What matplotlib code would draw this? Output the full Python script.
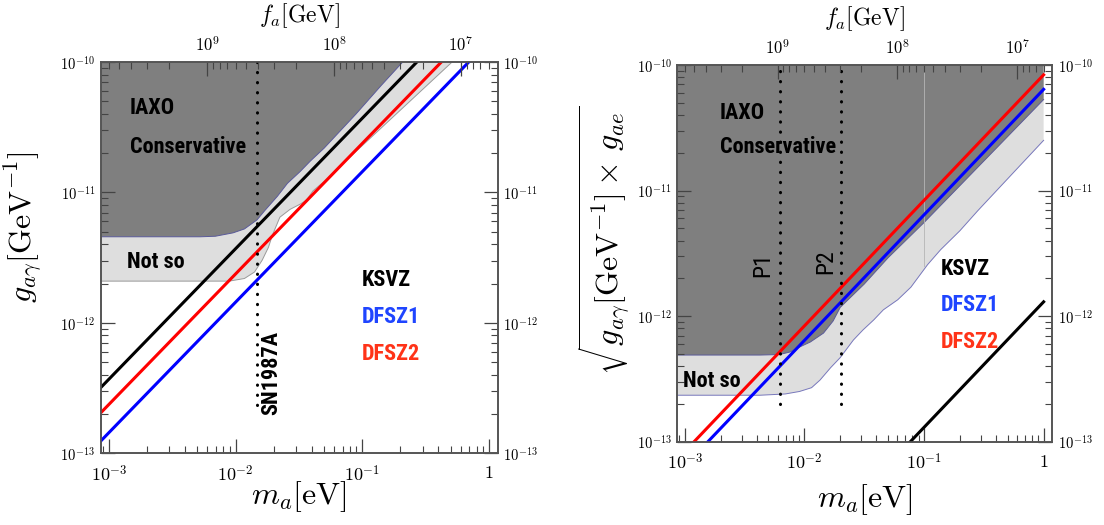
import numpy as np
import matplotlib.pyplot as plt
from matplotlib.ticker import FuncFormatter, NullFormatter

plt.rcParams['mathtext.fontset'] = 'cm'
plt.rcParams['font.family'] = ['DejaVu Serif']

COND = ['Liberation Sans Narrow', 'Roboto Condensed', 'DejaVu Sans']

FA_CONST = 6.0e6            # f_a [GeV] = FA_CONST / m_a [eV]
M_LIM = (10**-3.065, 10**0.07)
G_LIM = (1e-13, 1e-10)

# model lines: coupling at m_a = 1 eV, g grows linearly with m_a
models = ['KSVZ', 'DFSZ1', 'DFSZ2']
line_colors = ['black', '#0000ff', '#ff0000']
text_colors = ['black', '#1f45ff', '#ff3318']
left_coef = [3.7e-10, 1.44e-10, 2.37e-10]
right_coef = [1.3e-12, 6.4e-11, 8.35e-11]
m_line = np.array([1e-4, 1.0])

# left panel regions (log10 m_a, log10 g)
left_dark_logm = [-3.07, -2.28, -2.16, -2.02, -1.93, -1.83, -1.77, -1.67, -1.59,
                  -1.49, -1.41, -1.30, -1.05, -0.85, -0.68]
left_dark_logg = [-11.34, -11.34, -11.336, -11.31, -11.28, -11.21, -11.14, -11.03, -10.93,
                  -10.84, -10.76, -10.66, -10.40, -10.18, -10.0]
left_light_logm = [-3.07, -2.05, -1.93, -1.85, -1.79, -1.74, -1.71, -1.65, -1.57,
                   -1.49, -1.44, -1.39, -1.33, -1.25, -1.18, -1.12, -0.29]
left_light_logg = [-11.68, -11.68, -11.66, -11.61, -11.52, -11.42, -11.33, -11.19, -11.13,
                   -11.09, -11.06, -10.99, -10.94, -10.88, -10.80, -10.75, -10.0]

# right panel regions
right_dark_logm = [-3.07, -2.37, -2.21, -2.12, -2.04, -1.95, -1.84, -1.76, -1.70,
                   -1.5, -1.3, -1.0, -0.5, 0.0]
right_dark_logg = [-12.31, -12.31, -12.306, -12.286, -12.246, -12.206, -12.135, -12.039, -11.93,
                   -11.745, -11.535, -11.255, -10.765, -10.275]
right_light_logm = [-3.07, -2.37, -2.16, -2.04, -1.94, -1.87, -1.78, -1.70, -1.59, -1.51,
                    -1.42, -1.34, -1.22, -1.11, -0.97, -0.86, -0.70, -0.55, 0.0]
right_light_logg = [-12.63, -12.63, -12.62, -12.60, -12.57, -12.51, -12.41, -12.33, -12.19, -12.11,
                    -12.03, -11.95, -11.87, -11.77, -11.59, -11.47, -11.32, -11.16, -10.60]

# vertical markers
sn_mass, sn_gmin = 0.0148, 2.35e-13
p_masses = [0.0062, 0.0202]
p_labels = ['P1', 'P2']
p_gmin = 2.0e-13

DARK = '#7f7f7f'
LIGHT = '#dedede'
DOTS = dict(color='black', lw=2.2, linestyle=(0, (0.1, 3.2)), dash_capstyle='round', zorder=4)


def log_fmt(v, pos):
    k = int(round(np.log10(v)))
    if k == 0:
        return r'$1$'
    return r'$10^{%d}$' % k


def region(ax, logm, logg, color, edge, right_end=None):
    m = 10 ** np.array(logm)
    g = 10 ** np.array(logg)
    xs = list(m)
    ys = list(g)
    if right_end is not None:
        xs.append(right_end)
        ys.append(G_LIM[1])
    xs.append(m[0])
    ys.append(G_LIM[1])
    ax.fill(xs, ys, color=color, lw=0, zorder=1)
    ax.plot(m, g, color=edge, lw=0.7, zorder=1.5)


def setup(ax, ylabel, ylab_xy, xpad):
    ax.set_xscale('log')
    ax.set_yscale('log')
    ax.set_xlim(*M_LIM)
    ax.set_ylim(*G_LIM)
    top = ax.twiny()
    top.set_xscale('log')
    top.set_xlim(FA_CONST / M_LIM[0], FA_CONST / M_LIM[1])
    for a in (ax, top):
        a.xaxis.set_major_formatter(FuncFormatter(log_fmt))
        a.xaxis.set_minor_formatter(NullFormatter())
        for s in a.spines.values():
            s.set_color('#555555')
            s.set_linewidth(1.2)
    ax.yaxis.set_major_formatter(FuncFormatter(log_fmt))
    ax.yaxis.set_minor_formatter(NullFormatter())
    ax.tick_params(which='both', direction='in', top=False, bottom=True,
                   left=True, right=True, labelright=True, color='#444444')
    ax.tick_params(which='major', length=10, width=0.9)
    ax.tick_params(which='minor', length=5, width=0.8)
    ax.tick_params(axis='x', labelsize=13, pad=8)
    ax.tick_params(axis='y', labelsize=10.5, pad=4)
    top.tick_params(which='both', direction='in', color='#444444', labelsize=12, pad=5)
    top.tick_params(which='major', length=10, width=0.9)
    top.tick_params(which='minor', length=5, width=0.8)
    top.set_xlabel(r'$f_a[\mathrm{GeV}]$', fontsize=17, labelpad=10)
    ax.set_xlabel(r'$m_a[\mathrm{eV}]$', fontsize=23, labelpad=xpad)
    ax.set_ylabel(ylabel, fontsize=23)
    ax.yaxis.set_label_coords(*ylab_xy)


def label(ax, x, y, s, color='black', size=16, weight='bold', **kw):
    kw.setdefault('va', 'center')
    ax.text(x, y, s, transform=ax.transAxes, color=color, fontsize=size,
            family=COND, fontweight=weight, fontstretch='condensed', zorder=5, **kw)


fig = plt.figure(figsize=(11.04, 5.25), dpi=100)
axL = fig.add_axes([0.0912, 0.1366, 0.3596, 0.7453])
axR = fig.add_axes([0.6132, 0.1587, 0.3397, 0.7175])

# ---- left panel
setup(axL, r'$g_{a\gamma}[\mathrm{GeV}^{-1}]$', (-0.140, 0.578), -4)
region(axL, left_light_logm, left_light_logg, LIGHT, '#9a9a9a')
region(axL, left_dark_logm, left_dark_logg, DARK, '#5a5a9a')
for c, col in zip(left_coef, line_colors):
    axL.plot(m_line, c * m_line, color=col, lw=2.2, zorder=3)
axL.plot([sn_mass, sn_mass], [sn_gmin, G_LIM[1]], **DOTS)
label(axL, 0.429, 0.098, 'SN1987A', rotation=90, ha='center', va='bottom')
label(axL, 0.074, 0.882, 'IAXO')
label(axL, 0.074, 0.783, 'Conservative')
label(axL, 0.066, 0.489, 'Not so')
for name, col, y in zip(models, text_colors, [0.443, 0.348, 0.254]):
    label(axL, 0.658, y, name, color=col)

# ---- right panel
setup(axR, r'$\sqrt{g_{a\gamma}[\mathrm{GeV}^{-1}]\times\, g_{ae}}$', (-0.12, 0.535), 6)
region(axR, right_light_logm, right_light_logg, LIGHT, '#7777bb', right_end=1.0)
region(axR, right_dark_logm, right_dark_logg, DARK, '#5a5a9a', right_end=1.0)
axR.plot([0.1, 0.1], [10**-11.6, G_LIM[1]], color='#b5b5b5', lw=0.6, zorder=2)
for c, col in zip(right_coef, line_colors):
    axR.plot(m_line, c * m_line, color=col, lw=2.2, zorder=3)
for m, s, x, y in zip(p_masses, p_labels, [0.2285, 0.397], [0.469, 0.477]):
    axR.plot([m, m], [p_gmin, G_LIM[1]], **DOTS)
    label(axR, x, y, s, size=17, weight='normal', rotation=90, ha='center')
label(axR, 0.115, 0.873, 'IAXO')
label(axR, 0.115, 0.782, 'Conservative')
label(axR, 0.016, 0.161, 'Not so')
for name, col, y in zip(models, text_colors, [0.458, 0.363, 0.265]):
    label(axR, 0.703, y, name, color=col)

fig.savefig('out.png', dpi=100)
